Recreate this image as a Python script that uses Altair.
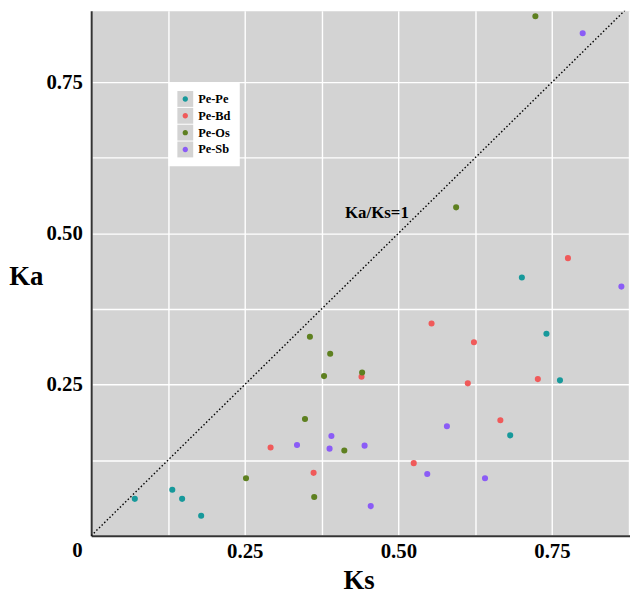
import altair as alt
import pandas as pd

# ---- data ----
groups = ["Pe-Pe", "Pe-Bd", "Pe-Os", "Pe-Sb"]
colors = ["#17999b", "#f05a5a", "#5e8020", "#8b5cf6"]

pe_pe_ks = [0.071, 0.132, 0.148, 0.179, 0.682, 0.701, 0.741, 0.763]
pe_pe_ka = [0.061, 0.076, 0.061, 0.033, 0.166, 0.427, 0.334, 0.257]
pe_bd_ks = [0.292, 0.362, 0.440, 0.525, 0.554, 0.613, 0.623, 0.666, 0.727, 0.776]
pe_bd_ka = [0.146, 0.104, 0.263, 0.120, 0.351, 0.252, 0.320, 0.191, 0.259, 0.459]
pe_os_ks = [0.252, 0.348, 0.356, 0.363, 0.379, 0.389, 0.412, 0.441, 0.594, 0.723]
pe_os_ka = [0.095, 0.193, 0.329, 0.064, 0.264, 0.301, 0.141, 0.270, 0.543, 0.859]
pe_sb_ks = [0.335, 0.388, 0.391, 0.445, 0.455, 0.547, 0.579, 0.641, 0.800, 0.863]
pe_sb_ka = [0.150, 0.144, 0.165, 0.149, 0.049, 0.102, 0.181, 0.095, 0.831, 0.412]

diag = [0.0, 0.877]
ann_ks = [0.465]
ann_ka = [0.534]
ann_text = ["Ka/Ks=1"]

grid_vals = [0, 0.125, 0.25, 0.375, 0.5, 0.625, 0.75, 0.875]
label_vals = [0.25, 0.5, 0.75]

# ---- tables ----
rows = []
for g, ks, ka in zip(groups, [pe_pe_ks, pe_bd_ks, pe_os_ks, pe_sb_ks],
                     [pe_pe_ka, pe_bd_ka, pe_os_ka, pe_sb_ka]):
    for a, b in zip(ks, ka):
        rows.append({"Ks": a, "Ka": b, "group": g})
df = pd.DataFrame(rows)
df_diag = pd.DataFrame({"Ks": diag, "Ka": diag})
df_ann = pd.DataFrame({"Ks": ann_ks, "Ka": ann_ka, "label": ann_text})
df_origin = pd.DataFrame({"Ks": [0.0], "Ka": [0.0], "label": ["0"]})

FONT = "Times New Roman, Liberation Serif, serif"
label_expr = "indexof(" + str(label_vals) + ", datum.value) >= 0 ? format(datum.value, '.2f') : ''"

x_axis = alt.Axis(
    values=grid_vals, labelExpr=label_expr, grid=True, gridColor="white", gridWidth=1.4,
    ticks=False, domainColor="#333333", domainWidth=2, labelFont=FONT, labelFontWeight="bold",
    labelFontSize=21, labelColor="black", labelPadding=5, labelFlush=False, labelOverlap=False,
    title="Ks", titleFont=FONT, titleFontSize=27, titleFontWeight="bold", titleColor="black",
    titleX=270, titleY=53, titleAlign="center", titleBaseline="alphabetic",
)
y_axis = alt.Axis(
    values=grid_vals[:-1], labelExpr=label_expr, grid=True, gridColor="white", gridWidth=1.4,
    ticks=False, domainColor="#333333", domainWidth=2, labelFont=FONT, labelFontWeight="bold",
    labelFontSize=21, labelColor="black", labelPadding=9, labelFlush=False, labelOverlap=False,
    title="Ka", titleFont=FONT, titleFontSize=27, titleFontWeight="bold", titleColor="black",
    titleAngle=0, titleX=-66, titleY=268, titleAlign="center", titleBaseline="middle",
)
xs = alt.Scale(domain=[0, 0.877], nice=False, zero=False)
ys = alt.Scale(domain=[0, 0.868], nice=False, zero=False)
X = alt.X("Ks:Q", scale=xs, axis=x_axis)
Y = alt.Y("Ka:Q", scale=ys, axis=y_axis)

legend_common = dict(
    orient="none", legendX=78, legendY=72, title=None, padding=9,
    symbolSize=256, symbolStrokeWidth=0, labelFont=FONT, labelFontWeight="bold",
    labelFontSize=12.5, labelColor="black", labelOffset=5, rowPadding=1,
)

dot_path = "M-1,-1L-1,-1M1,1L1,1M-0.34,0A0.34,0.34,0,1,1,0.34,0A0.34,0.34,0,1,1,-0.34,0Z"

key_layer = alt.Chart(df).mark_square(size=0, opacity=1, filled=True).encode(
    x=X, y=Y,
    color=alt.Color("group:N", scale=alt.Scale(domain=groups, range=["#d3d3d3"] * 4),
                    legend=alt.Legend(fillColor="white", symbolType="square", zindex=0,
                                      **legend_common)),
)

diag_layer = alt.Chart(df_diag).mark_line(
    color="black", strokeWidth=1.4, strokeDash=[1.5, 2.2], clip=True
).encode(x=X, y=Y)

points = alt.Chart(df).mark_circle(size=38, opacity=1).encode(
    x=X, y=Y,
    color=alt.Color("group:N", scale=alt.Scale(domain=groups, range=colors),
                    legend=alt.Legend(symbolType=dot_path, labelOpacity=0, zindex=1,
                                      **legend_common)),
)

ann = alt.Chart(df_ann).mark_text(
    font=FONT, fontWeight="bold", fontSize=17, color="black", align="center", baseline="middle"
).encode(x=X, y=Y, text="label:N")

origin = alt.Chart(df_origin).mark_text(
    font=FONT, fontWeight="bold", fontSize=21, color="black", align="center",
    baseline="middle", dx=-14, dy=15
).encode(x=X, y=Y, text="label:N")

chart = alt.layer(key_layer, diag_layer, points, ann, origin).resolve_scale(
    color="independent"
).properties(
    width=544, height=530,
    autosize=alt.AutoSizeParams(type="none"),
    padding={"left": 84, "top": 0, "right": 0, "bottom": 59},
).configure_view(fill="#d3d3d3", strokeOpacity=0)

chart.save("out.html", embed_options={"renderer": "svg", "actions": False})
